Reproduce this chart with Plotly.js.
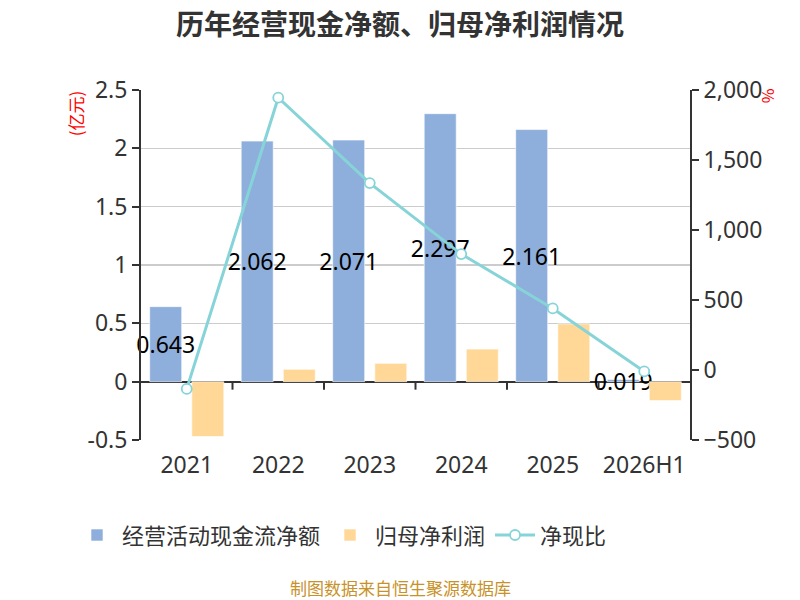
<!DOCTYPE html>
<html><head><meta charset="utf-8">
<script src="https://cdn.plot.ly/plotly-3.0.1.min.js"></script>
<style>html,body{margin:0;padding:0;background:#fff}#chart{width:800px;height:600px}</style>
</head><body><div id="chart"></div>
<script>
const categories = ['2021', '2022', '2023', '2024', '2025', '2026H1'];
const operatingCashFlow = [0.643, 2.062, 2.071, 2.297, 2.161, 0.019];
const netProfit = [-0.47, 0.106, 0.157, 0.279, 0.495, -0.162];
const cashToProfitRatio = [-135, 1945, 1335, 828, 440, -10];
const seriesNames = ['经营活动现金流净额', '归母净利润', '净现比'];
const leftTicks = [-0.5, 0, 0.5, 1, 1.5, 2, 2.5];
const rightTicks = [-500, 0, 500, 1000, 1500, 2000];

const FONT = '"Noto Sans", "Noto Sans CJK SC", sans-serif';
const CJK = '"Noto Sans CJK SC", "Noto Sans", sans-serif';
const BLUE = '#8eaedb', ORANGE = '#ffd898', TEAL = '#86d4d8';

const traces = [
  {
    type: 'bar', name: seriesNames[0], x: categories, y: operatingCashFlow,
    marker: {color: BLUE, line: {color: 'rgba(255,255,255,0.6)', width: 1}},
    texttemplate: '%{y}', textposition: 'inside', insidetextanchor: 'middle',
    textangle: 0, constraintext: 'none', cliponaxis: false,
    textfont: {family: FONT, size: 23, color: '#000'},
    hoverinfo: 'skip'
  },
  {
    type: 'bar', name: seriesNames[1], x: categories, y: netProfit,
    marker: {color: ORANGE, line: {color: 'rgba(255,255,255,0.6)', width: 1}},
    hoverinfo: 'skip'
  },
  {
    type: 'scatter', mode: 'lines+markers', name: seriesNames[2], x: categories, y: cashToProfitRatio,
    yaxis: 'y2', cliponaxis: false,
    line: {color: TEAL, width: 3},
    marker: {symbol: 'circle', size: 10, color: '#fff', line: {color: TEAL, width: 1.8}},
    hoverinfo: 'skip'
  }
];

const tickShapes = categories.slice(1).map((c, i) => ({
  type: 'line', xref: 'x', yref: 'y', ysizemode: 'pixel', yanchor: 0,
  x0: i + 0.5, x1: i + 0.5, y0: 0, y1: -8,
  line: {color: '#333', width: 2}
}));

const layout = {
  width: 800, height: 600,
  margin: {l: 141, r: 110, t: 90, b: 160},
  paper_bgcolor: '#fff', plot_bgcolor: '#fff',
  barmode: 'group', bargap: 0.08, bargroupgap: 0.24,
  title: {text: '历年经营现金净额、归母净利润情况', xref: 'container', x: 0.5, xanchor: 'center',
          yref: 'container', y: 0.958, yanchor: 'middle',
          font: {family: CJK, size: 28, color: '#333', weight: 'bold'}},
  font: {family: FONT, color: '#333'},
  xaxis: {
    type: 'category', showline: false, ticks: '', showgrid: false, zeroline: false,
    tickfont: {family: FONT, size: 23, color: '#333'}, ticklabelstandoff: 9
  },
  yaxis: {
    range: [-0.5, 2.5], tickvals: leftTicks, ticktext: leftTicks.map(String),
    showline: true, linecolor: '#333', linewidth: 2,
    ticks: 'outside', ticklen: 7, tickwidth: 2, tickcolor: '#333',
    showgrid: true, gridcolor: '#cccccc', gridwidth: 1.5,
    zeroline: true, zerolinecolor: '#333', zerolinewidth: 2,
    tickfont: {family: FONT, size: 23, color: '#333'}
  },
  yaxis2: {
    overlaying: 'y', side: 'right', range: [-500, 2000], tickvals: rightTicks,
    tickformat: ',d', separatethousands: true,
    showline: true, linecolor: '#333', linewidth: 2,
    ticks: 'outside', ticklen: 7, tickwidth: 2, tickcolor: '#333',
    showgrid: false, zeroline: false,
    tickfont: {family: FONT, size: 23, color: '#333'}
  },
  legend: {
    orientation: 'h', xref: 'container', x: 0.09, xanchor: 'left',
    yref: 'container', y: 0.108, yanchor: 'middle',
    font: {family: CJK, size: 22, color: '#333'}, itemwidth: 40, traceorder: 'normal'
  },
  shapes: tickShapes,
  annotations: [
    {text: '(亿元)', xref: 'paper', yref: 'paper', x: -0.12, y: 1.005, xanchor: 'center', yanchor: 'top',
     textangle: -90, showarrow: false, font: {family: CJK, size: 17, color: '#ff0000'}},
    {text: '%', xref: 'paper', yref: 'paper', x: 1.143, y: 1.01, xanchor: 'center', yanchor: 'top',
     textangle: 90, showarrow: false, font: {family: CJK, size: 16, color: '#ff0000'}},
    {text: '制图数据来自恒生聚源数据库', xref: 'paper', yref: 'paper', x: 0.4718, y: -0.42,
     xanchor: 'center', yanchor: 'middle', showarrow: false,
     font: {family: CJK, size: 17, color: '#c8922a'}}
  ]
};

Plotly.newPlot('chart', traces, layout, {displayModeBar: false, staticPlot: true});
</script>
</body></html>
